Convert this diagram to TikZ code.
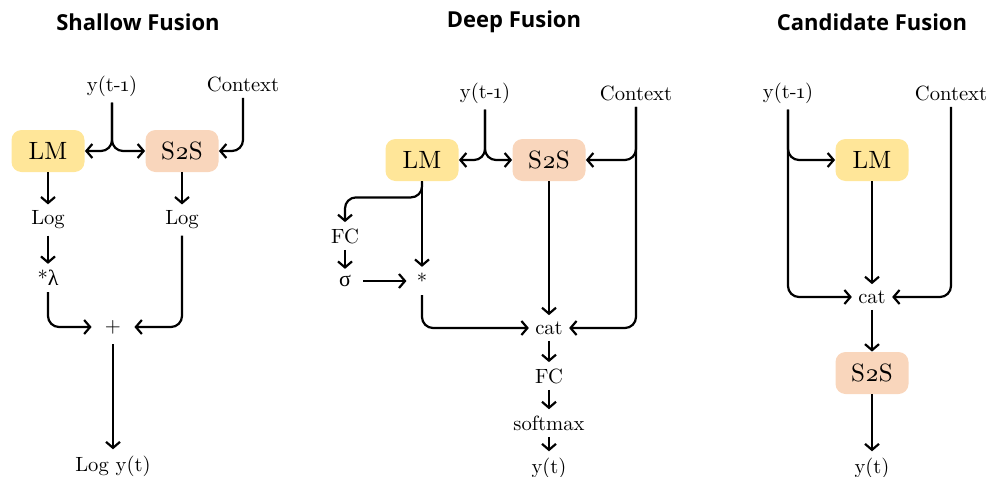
\documentclass[tikz,border=0pt]{standalone}
\usepackage{fontspec}
\setmainfont{lmroman10-regular}[Extension=.otf, BoldFont=lmroman10-bold, ItalicFont=lmroman10-italic, Numbers=OldStyle]
\newfontfamily\titlefont{Open Sans}[Scale=1]
\newfontfamily\greekfont{Liberation Serif}
\usetikzlibrary{arrows.meta}
\definecolor{lmfill}{HTML}{FFE699}
\definecolor{ssfill}{HTML}{F9D6BC}
\begin{document}
\begin{tikzpicture}[x=0.5pt,y=-0.5pt,
  title/.style={font=\titlefont\bfseries\fontsize{11}{13}\selectfont, inner sep=0pt},
  txt/.style={font=\fontsize{10.3}{12}\selectfont, inner sep=3pt},
  boxbase/.style={font=\fontsize{12.5}{14}\selectfont, rounded corners=5pt, minimum width=36.5pt, minimum height=21pt, inner sep=0pt},
  lm/.style={boxbase, fill=lmfill},
  s2s/.style={boxbase, fill=ssfill},
  arr/.style={draw=black, line width=1.1pt, rounded corners=5.5pt, -{Straight Barb[length=3pt,width=7pt,line width=1.1pt]}}
]
\useasboundingbox (0,0) rectangle (987,477);

% ---------------- Shallow Fusion ----------------
\node[title] (t1) at (138,22) {Shallow Fusion};
\node[txt] (y1) at (112,86) {y(t-1)};
\node[txt] (c1) at (243,84) {Context};
\node[lm] (lm1) at (48,151) {LM};
\node[s2s] (s1) at (182,151) {S2S};
\node[txt] (l1) at (48,220) {Log};
\node[txt] (l2) at (182,220) {Log};
\node[txt] (lam) at (48,278) {*{\greekfont\fontsize{11}{12}\selectfont λ}};
\node[txt, minimum width=21pt, minimum height=17pt] (plus) at (113,327) {+};
\node[txt] (out1) at (113,466) {Log y(t)};

\draw[arr] (y1) |- (lm1);
\draw[arr] (y1) |- (s1);
\draw[arr] (c1) |- (s1);
\draw[arr] (lm1) -- (l1);
\draw[arr] (s1) -- (l2);
\draw[arr] (l1) -- (lam);
\draw[arr] (lam) |- (plus);
\draw[arr] (l2) |- (plus);
\draw[arr] (plus) -- (out1);

% ---------------- Deep Fusion ----------------
\node[title] (t2) at (514,22) {Deep Fusion};
\node[txt] (y2) at (485,93) {y(t-1)};
\node[txt] (c2) at (636,93) {Context};
\node[lm] (lm2) at (422,160) {LM};
\node[s2s] (s2) at (549,160) {S2S};
\node[txt] (fc2a) at (345,236) {FC};
\node[txt, inner xsep=6pt] (sig) at (345,281) {{\greekfont\fontsize{11}{12}\selectfont σ}};
\node[txt, inner xsep=5pt] (mul) at (422,281) {*};
\node[txt] (cat2) at (549,328) {cat};
\node[txt] (fc2b) at (549,376) {FC};
\node[txt] (sm) at (549,423) {softmax};
\node[txt] (out2) at (549,468) {y(t)};

\draw[arr] (y2) |- (lm2);
\draw[arr] (y2) |- (s2);
\draw[arr] (c2) |- (s2);
\draw[arr] (c2) |- (cat2);
\draw[arr] (lm2) -- (mul);
\draw[arr] (lm2.south) -- ++(0,16) -| (fc2a);
\draw[arr] (fc2a) -- (sig);
\draw[arr] (sig) -- (mul);
\draw[arr] (mul) |- (cat2);
\draw[arr] (s2) -- (cat2);
\draw[arr] (cat2) -- (fc2b);
\draw[arr] (fc2b) -- (sm);
\draw[arr] (sm) -- (out2);

% ---------------- Candidate Fusion ----------------
\node[title] (t3) at (872,22) {Candidate Fusion};
\node[txt] (y3) at (788,93) {y(t-1)};
\node[txt] (c3) at (951,93) {Context};
\node[lm] (lm3) at (872,160) {LM};
\node[txt] (cat3) at (872,297) {cat};
\node[s2s] (s3) at (872,373) {S2S};
\node[txt] (out3) at (872,468) {y(t)};

\draw[arr] (y3) |- (lm3);
\draw[arr] (y3) |- (cat3);
\draw[arr] (c3) |- (cat3);
\draw[arr] (lm3) -- (cat3);
\draw[arr] (cat3) -- (s3);
\draw[arr] (s3) -- (out3);
\end{tikzpicture}
\end{document}
